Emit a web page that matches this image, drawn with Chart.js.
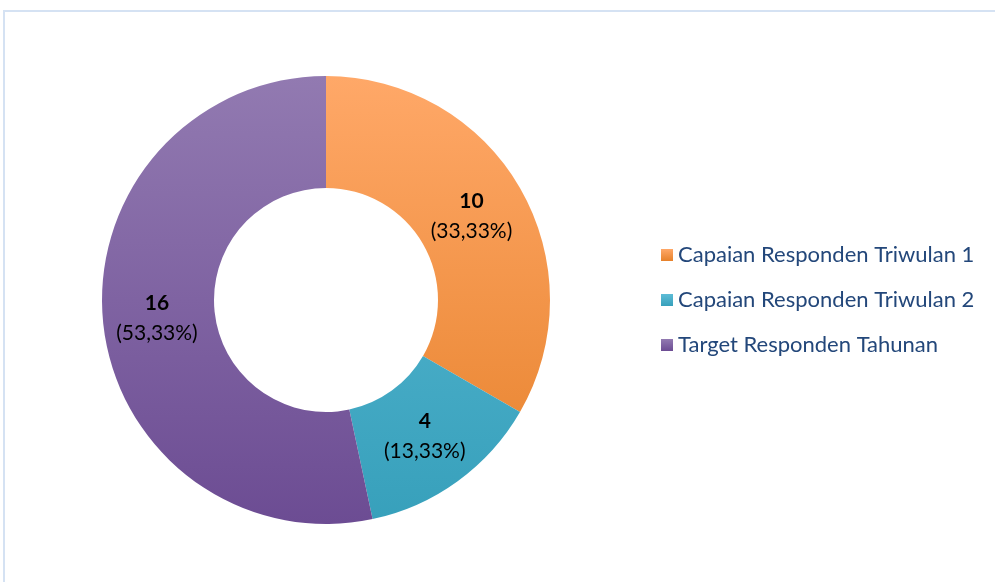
<!DOCTYPE html>
<html>
<head>
<meta charset="utf-8">
<script src="https://cdn.jsdelivr.net/npm/chart.js@4/dist/chart.umd.min.js"></script>
<style>
  html, body { margin: 0; padding: 0; background: #fff; overflow: hidden; }
  #frame {
    position: absolute; left: 3px; top: 10px; width: 1010px; height: 600px;
    border-left: 2px solid #D5E2F3; border-top: 2px solid #D5E2F3;
  }
  #wrap { position: absolute; left: 0; top: 0; width: 995px; height: 582px; }
</style>
</head>
<body>
<div id="frame"></div>
<div id="wrap"><canvas id="chart" width="995" height="582"></canvas></div>
<script>
const labels = ["Capaian Responden Triwulan 1", "Capaian Responden Triwulan 2", "Target Responden Tahunan"];
const values = [10, 4, 16];

// top / bottom shades for the vertical gradient of each slice
const topColors = ["#FFA868", "#5DBCD6", "#927AB1"];
const bottomColors = ["#E6812A", "#37A0BB", "#6C4C93"];
const legendColors = ["#F79646", "#4BACC6", "#8064A2"];

const total = values.reduce((a, b) => a + b, 0);

function sliceFill(context) {
  const chart = context.chart;
  const area = chart.chartArea;
  if (!area) return legendColors[context.dataIndex];
  const g = chart.ctx.createLinearGradient(0, area.top, 0, area.bottom);
  g.addColorStop(0, topColors[context.dataIndex]);
  g.addColorStop(1, bottomColors[context.dataIndex]);
  return g;
}

const sliceLabels = {
  id: "sliceLabels",
  afterDatasetsDraw(chart, args, opts) {
    const ctx = chart.ctx;
    const meta = chart.getDatasetMeta(0);
    ctx.save();
    ctx.textAlign = "center";
    ctx.textBaseline = "middle";
    ctx.fillStyle = "#000";
    meta.data.forEach((arc, i) => {
      const p = arc.getProps(["x", "y", "startAngle", "endAngle", "innerRadius", "outerRadius"], true);
      let ang = (p.startAngle + p.endAngle) / 2;
      if (opts.angles[i] != null) ang = (opts.angles[i] - 90) * Math.PI / 180;
      const r = (p.innerRadius + p.outerRadius) / 2 + (opts.radiusShift[i] || 0);
      const cx = p.x + Math.cos(ang) * r;
      const cy = p.y + Math.sin(ang) * r;
      const pct = (values[i] / total * 100).toFixed(2).replace(".", ",");
      ctx.font = "bold 21px Lato, 'DejaVu Sans', sans-serif";
      ctx.fillText(String(values[i]), cx, cy - 15);
      ctx.font = "21px Lato, 'DejaVu Sans', sans-serif";
      ctx.fillText("(" + pct + "%)", cx, cy + 15);
    });
    ctx.restore();
  }
};

const sideLegend = {
  id: "sideLegend",
  afterDraw(chart, args, opts) {
    const ctx = chart.ctx;
    ctx.save();
    ctx.textBaseline = "middle";
    ctx.textAlign = "left";
    ctx.font = "22px Lato, 'DejaVu Sans', sans-serif";
    labels.forEach((lab, i) => {
      const y = opts.top + i * opts.gap;
      const g = ctx.createLinearGradient(0, y - 6, 0, y + 6);
      g.addColorStop(0, topColors[i]);
      g.addColorStop(1, bottomColors[i]);
      ctx.fillStyle = g;
      ctx.fillRect(opts.left, y - 6, 12, 12);
      ctx.fillStyle = "#23477A";
      ctx.fillText(lab, opts.left + 17, y);
    });
    ctx.restore();
  }
};

new Chart(document.getElementById("chart"), {
  type: "doughnut",
  data: {
    labels: labels,
    datasets: [{
      data: values,
      backgroundColor: sliceFill,
      borderWidth: 0
    }]
  },
  options: {
    responsive: false,
    animation: false,
    cutout: "50%",
    layout: { padding: { left: 102, right: 445, top: 76, bottom: 58 } },
    plugins: {
      legend: { display: false },
      tooltip: { enabled: false },
      sliceLabels: { angles: [null, null, 264], radiusShift: [0, 0, 2] },
      sideLegend: { left: 661, top: 255, gap: 45 }
    }
  },
  plugins: [sliceLabels, sideLegend]
});
</script>
</body>
</html>
